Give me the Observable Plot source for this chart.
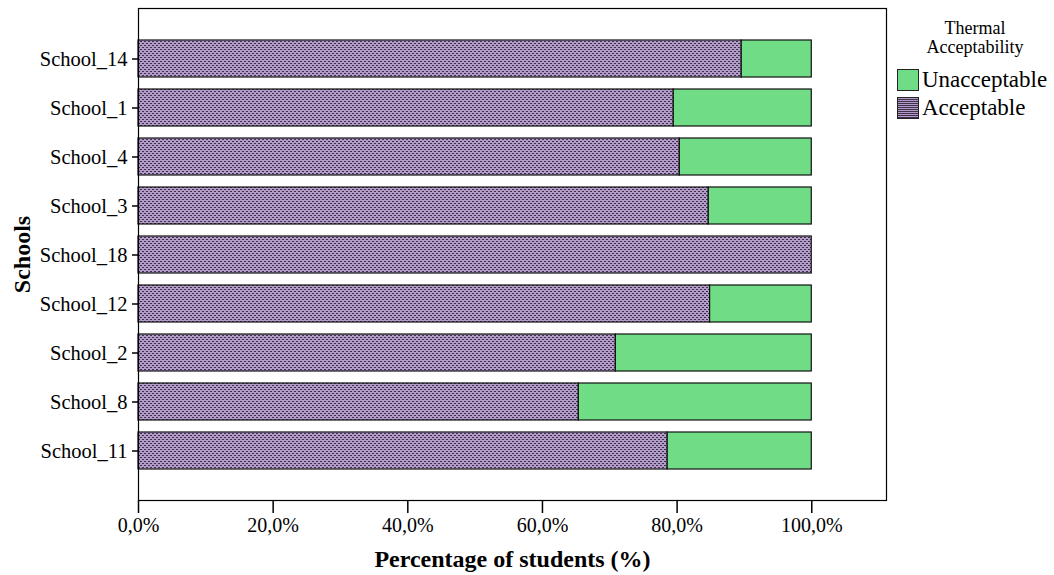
<!DOCTYPE html>
<html>
<head>
<meta charset="utf-8">
<script src="https://cdn.jsdelivr.net/npm/d3@7"></script>
<script src="https://cdn.jsdelivr.net/npm/@observablehq/plot@0.6"></script>
<style>
  body { margin: 0; background: #fff; font-family: "Liberation Serif", "Times New Roman", serif; }
  #wrap { position: relative; width: 1054px; height: 575px; }
  #legend { position: absolute; left: 897px; top: 19px; width: 157px; color: #000; }
  #legend .title { text-align: center; font-size: 18px; line-height: 19px; width: 156px; margin-bottom: 9px; }
  #legend .row { display: flex; align-items: center; height: 28px; font-size: 23px; }
  #legend .sw { width: 22px; height: 22px; border: 1px solid #222; margin-right: 3px; box-sizing: border-box; }
</style>
</head>
<body>
<div id="wrap"></div>
<script>
const schools = ["School_14","School_1","School_4","School_3","School_18","School_12","School_2","School_8","School_11"];
const acceptable = [89.6, 79.5, 80.4, 84.7, 100, 84.9, 70.9, 65.4, 78.6];
const categories = ["Acceptable", "Unacceptable"];
const colors = {Acceptable: "url(#hatch)", Unacceptable: "#70dc86"};
const xTicks = [0, 20, 40, 60, 80, 100];

const rows = [];
schools.forEach((s, i) => {
  rows.push({school: s, cat: "Acceptable", x1: 0, x2: acceptable[i]});
  rows.push({school: s, cat: "Unacceptable", x1: acceptable[i], x2: 100});
});

const fmt = d => d.toFixed(1).replace(".", ",") + "%";

const chart = Plot.plot({
  width: 1054,
  height: 575,
  marginLeft: 138,
  marginRight: 168,
  marginTop: 8,
  marginBottom: 75,
  style: {fontFamily: "Liberation Serif, serif", fontSize: "20px", color: "#000", background: "#fff"},
  x: {domain: [0, 111.1], label: null},
  y: {domain: schools, paddingInner: 0.25, paddingOuter: 0.62, label: null},
  marks: [
    Plot.barX(rows.filter(d => d.x2 > d.x1), {
      y: "school", x1: "x1", x2: "x2",
      fill: d => colors[d.cat],
      stroke: "#111", strokeWidth: 1.2
    }),
    Plot.frame({stroke: "#000", strokeWidth: 1.2}),
    Plot.axisX({ticks: xTicks, tickFormat: fmt, tickSize: 13, tickPadding: 4, label: null, strokeWidth: 1.5, fontSize: 20}),
    Plot.axisY({tickSize: 6, tickPadding: 5, label: null, strokeWidth: 1.5, fontSize: 20.5}),
    Plot.text(["Percentage of students (%)"], {frameAnchor: "bottom", dy: 66, fontWeight: "bold", fontSize: 24, text: d => d}),
    Plot.text(["Schools"], {frameAnchor: "left", dx: -116, rotate: -90, textAnchor: "middle", fontWeight: "bold", fontSize: 24, text: d => d})
  ]
});

// hatch pattern for "Acceptable"
const svgns = "http://www.w3.org/2000/svg";
const defs = document.createElementNS(svgns, "defs");
const pat = document.createElementNS(svgns, "pattern");
pat.setAttribute("id", "hatch");
pat.setAttribute("width", "4");
pat.setAttribute("height", "4");
pat.setAttribute("patternUnits", "userSpaceOnUse");
const bg = document.createElementNS(svgns, "rect");
bg.setAttribute("width", "4"); bg.setAttribute("height", "4"); bg.setAttribute("fill", "#b29bca");
pat.appendChild(bg);
[[0,1],[2,3]].forEach(([x,y]) => {
  const r = document.createElementNS(svgns, "rect");
  r.setAttribute("x", x); r.setAttribute("y", y); r.setAttribute("width", "2"); r.setAttribute("height", "1");
  r.setAttribute("fill", "#3f3246");
  pat.appendChild(r);
});
defs.appendChild(pat);
chart.insertBefore(defs, chart.firstChild);

const wrap = document.getElementById("wrap");
wrap.appendChild(chart);

const legend = document.createElement("div");
legend.id = "legend";
legend.innerHTML = `<div class="title">Thermal<br>Acceptability</div>` +
  categories.slice().reverse().map(c => {
    const bgStyle = c === "Acceptable"
      ? "background-color:#b29bca;background-image:repeating-linear-gradient(0deg, #3f3246 0 1px, transparent 1px 2px);background-size:4px 4px;"
      : `background:${colors[c]};`;
    return `<div class="row"><div class="sw" style="${bgStyle}"></div><span>${c}</span></div>`;
  }).join("");
wrap.appendChild(legend);
</script>
</body>
</html>
